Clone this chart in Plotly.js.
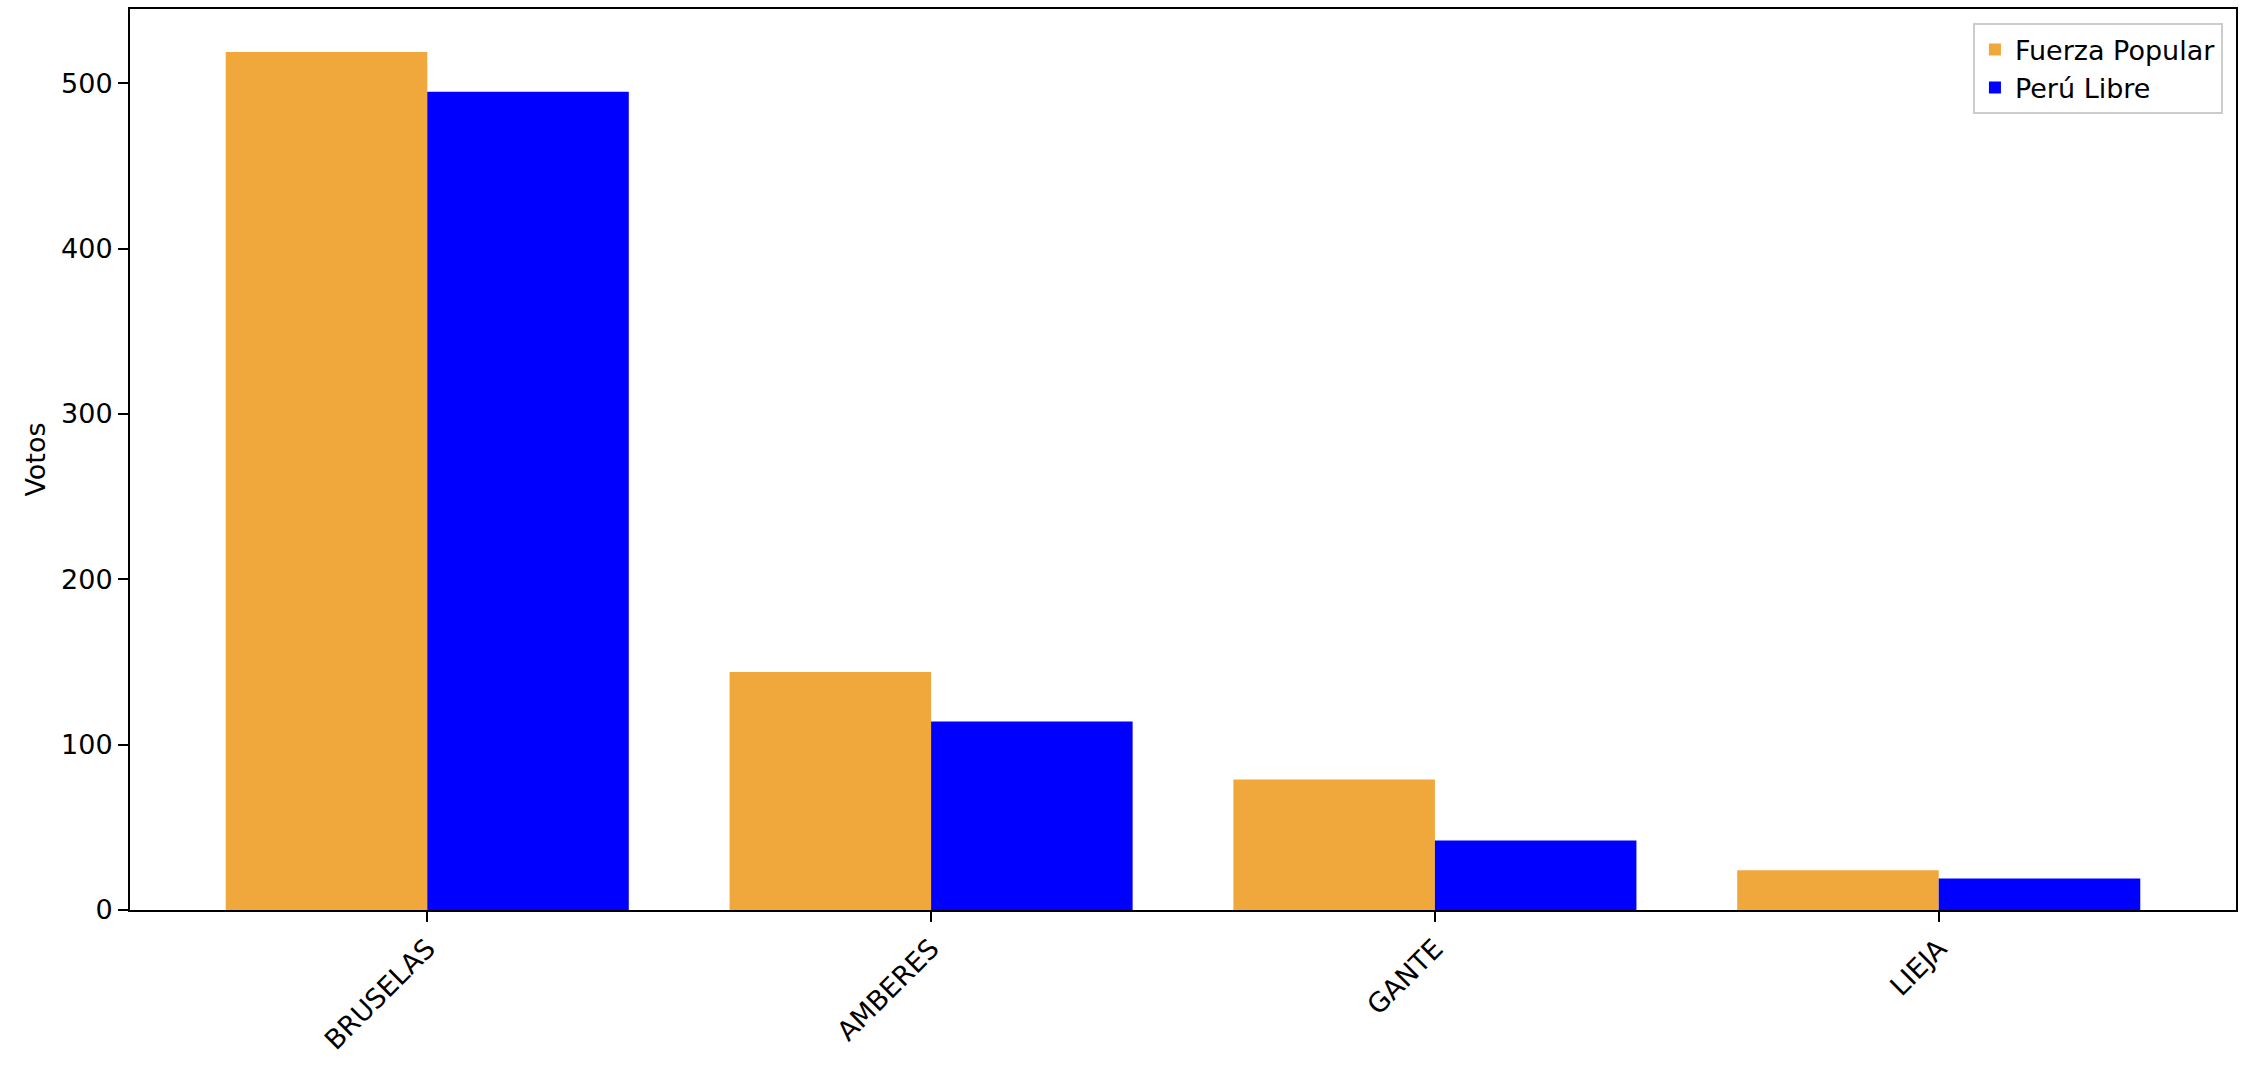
<!DOCTYPE html>
<html>
<head>
<meta charset="utf-8">
<script src="https://cdn.plot.ly/plotly-3.0.1.min.js"></script>
<style>
  html, body { margin: 0; padding: 0; background: #fff; }
  #myDiv { width: 2242px; height: 1070px; }
</style>
</head>
<body>
<div id="myDiv"></div>
<script>
// cities and votes
var ciudades = ['BRUSELAS', 'AMBERES', 'GANTE', 'LIEJA'];
var fuerzaPopular = [519, 144, 79, 24];
var peruLibre = [495, 114, 42, 19];

var font = 'DejaVu Sans, sans-serif';

var trace1 = {
  x: ciudades,
  y: fuerzaPopular,
  name: 'Fuerza Popular',
  type: 'bar',
  marker: {color: '#f0a83c', line: {width: 0}}
};
var trace2 = {
  x: ciudades,
  y: peruLibre,
  name: 'Perú Libre',
  type: 'bar',
  marker: {color: '#0000ff', line: {width: 0}}
};
var data = [trace1, trace2];

var layout = {
  width: 2242,
  height: 1070,
  margin: {l: 130, r: 6, t: 9, b: 160},
  paper_bgcolor: '#fff',
  plot_bgcolor: '#fff',
  font: {family: font, size: 27, color: '#000'},
  barmode: 'group',
  bargap: 0.2,
  bargroupgap: 0,
  showlegend: true,
  legend: {
    x: 0.9938, y: 0.984, xanchor: 'right', yanchor: 'top',
    bgcolor: '#fff', bordercolor: '#cccccc', borderwidth: 2,
    tracegroupgap: 4,
    font: {family: font, size: 27, color: '#000'}
  },
  xaxis: {
    type: 'category',
    range: [-0.59, 3.59],
    tickangle: -45,
    ticks: 'outside', ticklen: 10, tickwidth: 2, tickcolor: '#000',
    showline: true, linecolor: '#000', linewidth: 2, mirror: true,
    showgrid: false, zeroline: false,
    tickfont: {family: font, size: 27, color: '#000'}
  },
  yaxis: {
    range: [0, 545],
    tickvals: [0, 100, 200, 300, 400, 500],
    ticks: 'outside', ticklen: 10, tickwidth: 2, tickcolor: '#000',
    showline: true, linecolor: '#000', linewidth: 2, mirror: true,
    showgrid: false, zeroline: false,
    tickfont: {family: font, size: 27, color: '#000'},
    title: {text: 'Votos', standoff: 8, font: {family: font, size: 27, color: '#000'}}
  }
};

Plotly.newPlot('myDiv', data, layout, {displayModeBar: false, staticPlot: true});
</script>
</body>
</html>
